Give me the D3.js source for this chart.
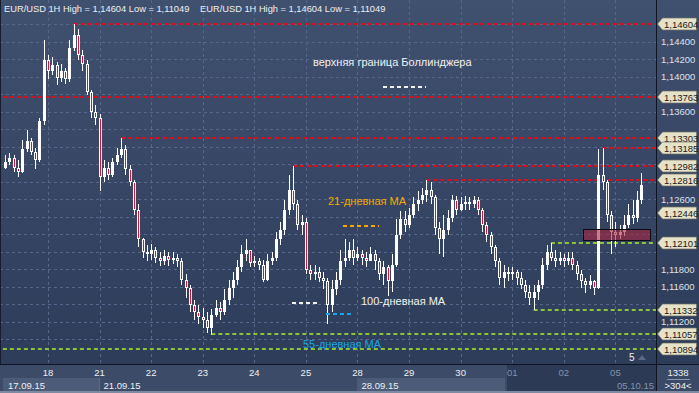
<!DOCTYPE html>
<html>
<head>
<meta charset="utf-8">
<script src="https://cdn.jsdelivr.net/npm/d3@7"></script>
<style>
  body { margin: 0; background: #2e3d59; }
  svg { display: block; font-family: "Liberation Sans", Arial, sans-serif; }
</style>
</head>
<body>
<div id="chart"></div>
<script>
// EUR/USD bars (2h slots), slot 12 = start of 18.09
var firstSlot = 2;
var opens = [1.1296,
  1.1303, 1.1307, 1.1296, 1.1291, 1.1317, 1.1326, 1.1314, 1.1305, 1.1349, 1.1419,
  1.1406, 1.1413, 1.1399, 1.1406, 1.1397, 1.1433, 1.1448, 1.1425, 1.1414, 1.1383, 1.1360, 1.1353, 1.1285,
  1.1296, 1.1288, 1.1303, 1.1311, 1.1317, 1.1294, 1.1280, 1.1248, 1.1214, 1.1200,
  1.1197, 1.1202, 1.1193, 1.1189, 1.1195, 1.1191, 1.1193, 1.1189, 1.1168, 1.1159, 1.1139, 1.1131, 1.1125,
  1.1122, 1.1113, 1.1128, 1.1136, 1.1131, 1.1145, 1.1159, 1.1168, 1.1182, 1.1197, 1.1202, 1.1187, 1.1189, 1.1185, 1.1168, 1.1189, 1.1193,
  1.1214, 1.1225, 1.1248, 1.1271, 1.1254, 1.1231, 1.1234, 1.1179,
  1.1174, 1.1177, 1.1170, 1.1166, 1.1139, 1.1157, 1.1168, 1.1189, 1.1193, 1.1202, 1.1193, 1.1197,
  1.1193, 1.1189, 1.1197, 1.1189, 1.1174, 1.1182, 1.1166, 1.1185, 1.1219, 1.1237, 1.1231, 1.1242,
  1.1254, 1.1259, 1.1265, 1.1271, 1.1262, 1.1227, 1.1214, 1.1225, 1.1239, 1.1259, 1.1248, 1.1254,
  1.1257, 1.1254, 1.1259, 1.1248, 1.1231, 1.1219, 1.1205, 1.1189, 1.1170, 1.1177, 1.1174, 1.1177,
  1.1170, 1.1162, 1.1154, 1.1147, 1.1154, 1.1162, 1.1185, 1.1200, 1.1193, 1.1189, 1.1193, 1.1189,
  1.1193, 1.1185, 1.1174, 1.1166, 1.1162, 1.1166, 1.1159, 1.1288, 1.1280, 1.1242, 1.1223, 1.1219, 1.1223, 1.1231, 1.1242, 1.1239, 1.1259];
var closes = [
  1.1303, 1.1307, 1.1296, 1.1291, 1.1317, 1.1326, 1.1314, 1.1305, 1.1349, 1.1419,
  1.1406, 1.1413, 1.1399, 1.1406, 1.1397, 1.1433, 1.1448, 1.1425, 1.1414, 1.1383, 1.1360, 1.1353, 1.1285,
  1.1296, 1.1288, 1.1303, 1.1311, 1.1317, 1.1294, 1.1280, 1.1248, 1.1214, 1.1200,
  1.1197, 1.1202, 1.1193, 1.1189, 1.1195, 1.1191, 1.1193, 1.1189, 1.1168, 1.1159, 1.1139, 1.1131, 1.1125,
  1.1122, 1.1113, 1.1128, 1.1136, 1.1131, 1.1145, 1.1159, 1.1168, 1.1182, 1.1197, 1.1202, 1.1187, 1.1189, 1.1185, 1.1168, 1.1189, 1.1193,
  1.1214, 1.1225, 1.1248, 1.1271, 1.1254, 1.1231, 1.1234, 1.1179,
  1.1174, 1.1177, 1.1170, 1.1166, 1.1139, 1.1157, 1.1168, 1.1189, 1.1193, 1.1202, 1.1193, 1.1197,
  1.1193, 1.1189, 1.1197, 1.1189, 1.1174, 1.1182, 1.1166, 1.1185, 1.1219, 1.1237, 1.1231, 1.1242,
  1.1254, 1.1259, 1.1265, 1.1271, 1.1262, 1.1227, 1.1214, 1.1225, 1.1239, 1.1259, 1.1248, 1.1254,
  1.1257, 1.1254, 1.1259, 1.1248, 1.1231, 1.1219, 1.1205, 1.1189, 1.1170, 1.1177, 1.1174, 1.1177,
  1.1170, 1.1162, 1.1154, 1.1147, 1.1154, 1.1162, 1.1185, 1.1200, 1.1193, 1.1189, 1.1193, 1.1189,
  1.1193, 1.1185, 1.1174, 1.1166, 1.1162, 1.1166, 1.1159, 1.1288, 1.1280, 1.1242, 1.1223, 1.1219, 1.1223, 1.1231, 1.1242, 1.1239, 1.1259, 1.1276];
var highs = [
  1.1311, 1.1313, 1.1311, 1.1305, 1.1328, 1.1339, 1.1330, 1.1319, 1.1353, 1.1442,
  1.1425, 1.1422, 1.1417, 1.1414, 1.1410, 1.1442, 1.14604, 1.1454, 1.1431, 1.1419, 1.1385, 1.1368, 1.1357,
  1.1305, 1.1303, 1.1307, 1.1319, 1.13303, 1.1322, 1.1299, 1.1282, 1.1254, 1.1216,
  1.1208, 1.1209, 1.1205, 1.1200, 1.1202, 1.1200, 1.1200, 1.1197, 1.1193, 1.1174, 1.1162, 1.1145, 1.1139,
  1.1136, 1.1131, 1.1134, 1.1145, 1.1142, 1.1157, 1.1168, 1.1177, 1.1191, 1.1208, 1.1214, 1.1202, 1.1195, 1.1193, 1.1191, 1.1197, 1.1200,
  1.1223, 1.1234, 1.1259, 1.1288, 1.12982, 1.1259, 1.1242, 1.1239,
  1.1185, 1.1185, 1.1182, 1.1177, 1.1170, 1.1168, 1.1177, 1.1202, 1.1214, 1.1211, 1.1214, 1.1205,
  1.1202, 1.1200, 1.1205, 1.1202, 1.1193, 1.1189, 1.1185, 1.1197, 1.1237, 1.1246, 1.1246, 1.1250,
  1.1262, 1.1269, 1.1273, 1.12816, 1.1280, 1.1265, 1.1234, 1.1242, 1.1248, 1.1265, 1.1264, 1.1262,
  1.1264, 1.1262, 1.1264, 1.1262, 1.1250, 1.1234, 1.1223, 1.1208, 1.1193, 1.1185, 1.1182, 1.1182,
  1.1179, 1.1177, 1.1168, 1.1162, 1.1162, 1.1168, 1.1193, 1.1208, 1.12101, 1.1202, 1.1200, 1.1197,
  1.1200, 1.1200, 1.1189, 1.1179, 1.1170, 1.1173, 1.1168, 1.1317, 1.13185, 1.1282, 1.1246, 1.1234, 1.1230, 1.1242, 1.1254, 1.1259, 1.1269, 1.1290];
var lows = [
  1.1294, 1.1299, 1.1291, 1.1285, 1.1290, 1.1314, 1.1310, 1.1294, 1.1302, 1.1345,
  1.1397, 1.1402, 1.1391, 1.1394, 1.1392, 1.1394, 1.1429, 1.1419, 1.1406, 1.1379, 1.1353, 1.1345, 1.1269,
  1.1280, 1.1282, 1.1285, 1.1299, 1.1307, 1.1288, 1.1275, 1.1242, 1.1205, 1.1193,
  1.1189, 1.1191, 1.1187, 1.1184, 1.1185, 1.1184, 1.1186, 1.1182, 1.1162, 1.1147, 1.1131, 1.1122, 1.1117,
  1.1113, 1.1107, 1.11049, 1.1125, 1.1122, 1.1128, 1.1139, 1.1147, 1.1162, 1.1177, 1.1189, 1.1182, 1.1182, 1.1179, 1.1165, 1.1166, 1.1185,
  1.1189, 1.1208, 1.1219, 1.1242, 1.1248, 1.1225, 1.1219, 1.1174,
  1.1168, 1.1168, 1.1165, 1.1157, 1.1117, 1.1131, 1.1151, 1.1162, 1.1182, 1.1189, 1.1185, 1.1189,
  1.1185, 1.1182, 1.1189, 1.1179, 1.1168, 1.1162, 1.1149, 1.1154, 1.1182, 1.1214, 1.1223, 1.1227,
  1.1239, 1.1246, 1.1254, 1.1257, 1.1254, 1.1219, 1.1197, 1.1194, 1.1219, 1.1234, 1.1242, 1.1246,
  1.1248, 1.1248, 1.1250, 1.1242, 1.1223, 1.1211, 1.1197, 1.1182, 1.1162, 1.1159, 1.1166, 1.1168,
  1.1162, 1.1157, 1.1147, 1.1139, 1.11332, 1.1145, 1.1157, 1.1179, 1.1189, 1.1182, 1.1185, 1.1182,
  1.1185, 1.1179, 1.1168, 1.1159, 1.1153, 1.1157, 1.1151, 1.1157, 1.1271, 1.1234, 1.1197, 1.1205, 1.1214, 1.1218, 1.1227, 1.1232, 1.1234, 1.1254];

// horizontal levels
var levelPrices = [1.14604, 1.13763, 1.13303, 1.13185, 1.12982, 1.12816, 1.12101, 1.11332, 1.11057, 1.10894];
var levelFrom   = [18, 1.5, 29, 141, 69, 100, 129, 125, 50, 1.5];
var levelType   = ["res", "res", "res", "res", "res", "res", "sup", "sup", "sup", "sup"];
var bidPrice = 1.12446;

// highlighted zone
var zoneSlots = [136.5, 152];
var zonePrices = [1.1226, 1.1213];

var priceTicks = [1.146, 1.144, 1.142, 1.140, 1.138, 1.136, 1.134, 1.132, 1.130, 1.128, 1.126,
  1.124, 1.122, 1.120, 1.118, 1.116, 1.114, 1.112, 1.110];
var dayLabels = ["18", "21", "22", "23", "24", "25", "28", "29", "30", "01", "02", "05"];
var dateLabels = ["17.09.15", "21.09.15", "28.09.15", "05.10.15"];
var dateDayIndex = [0, 2, 7, 12];

var title = "EUR/USD 1H High = 1,14604 Low = 1,11049";
var legendTexts = ["верхняя граница Боллинджера", "21-дневная МА", "100-дневная МА", "55-дневная МА"];
var legendColors = ["#f2f2f2", "#f5a800", "#f2f2f2", "#1aa3e8"];

var W = 699, H = 393;
var plotRight = 656, plotBottom = 364;

var x = d3.scaleLinear().domain([12, 144]).range([48, 615.4]);
var y = d3.scaleLinear().domain([1.10717, 1.14877]).range([plotBottom, 0]);
var fmt = function(p) { return d3.format(".5f")(p).replace(".", ","); };

var svg = d3.select("#chart").append("svg")
  .attr("width", W)
  .attr("height", H);

var defs = svg.append("defs");
var grad = defs.append("linearGradient").attr("id", "bg")
  .attr("x1", 0).attr("y1", 0).attr("x2", 0).attr("y2", 1);
grad.append("stop").attr("offset", "0%").attr("stop-color", "#40506f");
grad.append("stop").attr("offset", "100%").attr("stop-color", "#2c3b58");
defs.append("clipPath").attr("id", "plotclip").append("rect")
  .attr("x", 0).attr("y", 0).attr("width", plotRight).attr("height", plotBottom);

svg.append("rect").attr("width", W).attr("height", H).attr("fill", "url(#bg)");

// bottom axis strip
svg.append("rect").attr("x", 0).attr("y", plotBottom).attr("width", W).attr("height", H - plotBottom)
  .attr("fill", "#3c4b68");

// grid
var grid = svg.append("g").attr("clip-path", "url(#plotclip)");
grid.selectAll(".hg").data(priceTicks).enter().append("line")
  .attr("x1", 0).attr("x2", plotRight)
  .attr("y1", d => Math.round(y(d)) + 0.5).attr("y2", d => Math.round(y(d)) + 0.5)
  .attr("stroke", "#56668a").attr("stroke-dasharray", "3,3");
grid.selectAll(".vg").data(dayLabels).enter().append("line")
  .attr("x1", (d, i) => Math.round(x(12 * (i + 1))) + 0.5)
  .attr("x2", (d, i) => Math.round(x(12 * (i + 1))) + 0.5)
  .attr("y1", 0).attr("y2", plotBottom)
  .attr("stroke", "#56668a").attr("stroke-dasharray", "3,3");

// level lines
var levels = svg.append("g");
levels.selectAll("line").data(levelPrices).enter().append("line")
  .attr("x1", (d, i) => x(levelFrom[i]))
  .attr("x2", plotRight)
  .attr("y1", d => Math.round(y(d)))
  .attr("y2", d => Math.round(y(d)))
  .attr("stroke", (d, i) => levelType[i] == "res" ? "#d8101e" : "#8cc43c")
  .attr("stroke-width", 2)
  .attr("stroke-dasharray", "4,3");

// candles
var bars = closes.map(function(c, i) {
  return { slot: firstSlot + i, o: opens[i], h: highs[i], l: lows[i], c: c };
});
var candles = svg.append("g").attr("shape-rendering", "crispEdges");
var cg = candles.selectAll("g").data(bars).enter().append("g");
cg.append("rect")
  .attr("x", d => Math.round(x(d.slot)))
  .attr("width", 1)
  .attr("y", d => Math.round(y(d.h)))
  .attr("height", d => Math.max(1, Math.round(y(d.l)) - Math.round(y(d.h))))
  .attr("fill", "#ffffff");
cg.append("rect")
  .attr("x", d => Math.round(x(d.slot)) - 1)
  .attr("width", 3)
  .attr("y", d => Math.round(y(Math.max(d.o, d.c))))
  .attr("height", d => Math.max(1, Math.round(y(Math.min(d.o, d.c))) - Math.round(y(Math.max(d.o, d.c)))))
  .attr("fill", "#ffffff");
cg.filter(d => d.c < d.o && y(d.c) - y(d.o) > 2).append("rect")
  .attr("x", d => Math.round(x(d.slot)))
  .attr("width", 1)
  .attr("y", d => Math.round(y(d.o)) + 1)
  .attr("height", d => Math.round(y(d.c)) - Math.round(y(d.o)) - 2)
  .attr("fill", "#e0102c");

// zone box
svg.append("rect")
  .attr("x", Math.round(x(zoneSlots[0])) + 0.5)
  .attr("y", Math.round(y(zonePrices[0])) + 0.5)
  .attr("width", Math.round(x(zoneSlots[1]) - x(zoneSlots[0])))
  .attr("height", Math.round(y(zonePrices[1]) - y(zonePrices[0])))
  .attr("fill", "#a8243e").attr("fill-opacity", 0.6)
  .attr("stroke", "#0c0c14").attr("stroke-width", 1);

// legend labels with dashed samples
var legendPos = [[313, 66], [328, 205], [361, 305], [303, 348]];
var samplePos = [[383, 426, 87], [343, 379, 226], [292, 319, 303], [326, 354, 314]];
var leg = svg.append("g");
leg.selectAll("text").data(legendTexts).enter().append("text")
  .attr("x", (d, i) => legendPos[i][0])
  .attr("y", (d, i) => legendPos[i][1])
  .attr("fill", (d, i) => legendColors[i])
  .attr("font-size", "11px")
  .text(d => d);
leg.selectAll("line").data(legendTexts).enter().append("line")
  .attr("x1", (d, i) => samplePos[i][0])
  .attr("x2", (d, i) => samplePos[i][1])
  .attr("y1", (d, i) => samplePos[i][2])
  .attr("y2", (d, i) => samplePos[i][2])
  .attr("stroke", (d, i) => legendColors[i])
  .attr("stroke-width", 2)
  .attr("stroke-dasharray", "4,3");

// header (printed twice like the terminal does)
svg.selectAll(".title").data([4, 200]).enter().append("text")
  .attr("x", d => d).attr("y", 12)
  .attr("fill", "#f0f0f0").attr("font-size", "9.3px")
  .text(title);

// right price axis
var tagPrices = levelPrices.concat([bidPrice]);
var axisG = svg.append("g");
axisG.append("rect").attr("x", plotRight).attr("y", 0).attr("width", W - plotRight).attr("height", plotBottom)
  .attr("fill", "url(#bg)");
// labels hidden behind a price tag are skipped
var freeTicks = priceTicks.filter(t => tagPrices.every(p => Math.abs(y(p) - y(t)) > 10));
axisG.selectAll(".tick").data(freeTicks).enter().append("text")
  .attr("x", 661).attr("y", d => y(d) + 3.5)
  .attr("fill", "#dde2ea").attr("font-size", "9.5px")
  .text(d => fmt(d));

var tags = axisG.selectAll(".tag").data(tagPrices).enter().append("g")
  .attr("transform", d => "translate(0," + Math.round(y(d)) + ")");
tags.append("path")
  .attr("d", "M657.5,0 L662.5,-6 L696.5,-6 L696.5,6 L662.5,6 Z")
  .attr("fill", "#e6e2c8").attr("stroke", "#6f6f66").attr("stroke-width", 0.7);
tags.append("text")
  .attr("x", 664).attr("y", 3.5)
  .attr("fill", "#1a1a1a").attr("font-size", "9.5px")
  .text(d => fmt(d));

// frame lines
svg.append("line").attr("x1", plotRight + 0.5).attr("x2", plotRight + 0.5).attr("y1", 0).attr("y2", H)
  .attr("stroke", "#0e1422");
svg.append("line").attr("x1", 0).attr("x2", W).attr("y1", plotBottom + 0.5).attr("y2", plotBottom + 0.5)
  .attr("stroke", "#0e1422");
svg.append("line").attr("x1", 0.5).attr("x2", 0.5).attr("y1", 0).attr("y2", plotBottom)
  .attr("stroke", "#151d2e");

// bottom time axis
var bottom = svg.append("g");
bottom.append("rect").attr("x", 3).attr("y", 378).attr("width", 96).attr("height", 13).attr("fill", "#4c5b78");
bottom.append("rect").attr("x", 357).attr("y", 378).attr("width", 148).attr("height", 13).attr("fill", "#4c5b78");
bottom.append("rect").attr("x", 507).attr("y", plotBottom + 1).attr("width", plotRight - 507).attr("height", H - plotBottom - 3)
  .attr("fill", "#2c3a56");
bottom.append("line").attr("x1", 99.5).attr("x2", 99.5).attr("y1", 378).attr("y2", 391).attr("stroke", "#5d6c88");

bottom.selectAll(".day").data(dayLabels).enter().append("text")
  .attr("x", (d, i) => x(12 * (i + 1)))
  .attr("y", 376)
  .attr("text-anchor", "middle")
  .attr("fill", (d, i) => x(12 * (i + 1)) > 507 ? "#8492ab" : "#eef0f4")
  .attr("font-size", "9.5px")
  .text(d => d);

bottom.selectAll(".date").data(dateLabels).enter().append("text")
  .attr("x", (d, i) => i == 3 ? 654 : Math.max(8, x(12 * dateDayIndex[i]) + 4))
  .attr("y", 389)
  .attr("text-anchor", (d, i) => i == 3 ? "end" : "start")
  .attr("fill", (d, i) => i == 3 ? "#8492ab" : "#eef0f4")
  .attr("font-size", "9.5px")
  .text(d => d);

// shift marker
svg.append("text").attr("x", 629).attr("y", 361).attr("fill", "#f0f0f0")
  .attr("font-size", "10px").text("5");
svg.append("path").attr("d", "M638,360 L642,355 L646,360 Z").attr("fill", "#5c6a84");

// bottom-right counters
svg.append("rect").attr("x", plotRight + 1).attr("y", plotBottom + 1).attr("width", W - plotRight - 1).attr("height", H - plotBottom - 3)
  .attr("fill", "#3a4966");
svg.append("text").attr("x", 678).attr("y", 376).attr("text-anchor", "middle")
  .attr("fill", "#eef0f4").attr("font-size", "9.5px").text("1338");
svg.append("line").attr("x1", 667).attr("x2", 690).attr("y1", 379.5).attr("y2", 379.5).attr("stroke", "#8a97ad");
svg.append("text").attr("x", 678).attr("y", 389).attr("text-anchor", "middle")
  .attr("fill", "#eef0f4").attr("font-size", "9.5px").text(">304<");
svg.append("rect").attr("x", 0).attr("y", H - 2).attr("width", W).attr("height", 2).attr("fill", "#7d8aa2");
</script>
</body>
</html>
